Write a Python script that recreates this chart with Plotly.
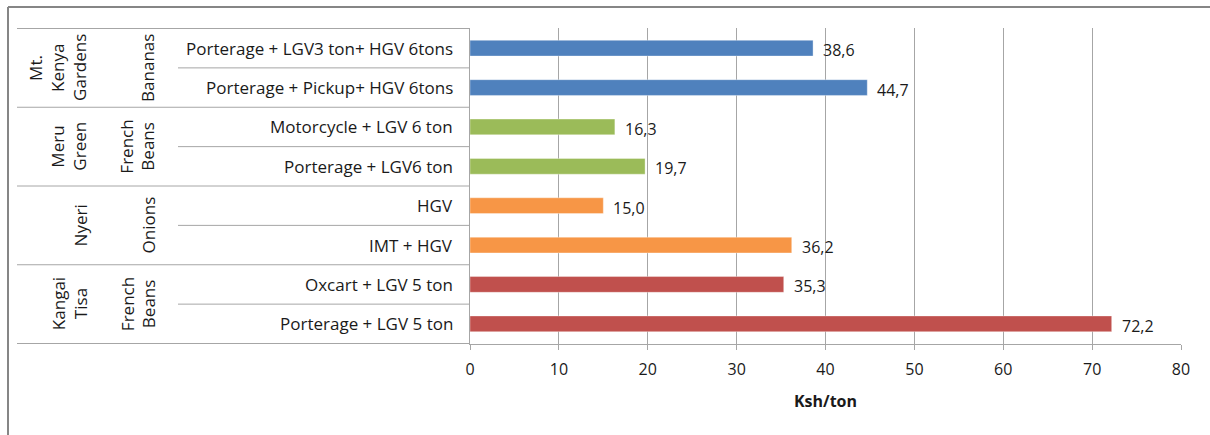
import plotly.graph_objects as go

# Transport options (top to bottom), their cost and the group they belong to
routes = [
    "Porterage + LGV3 ton+ HGV 6tons",
    "Porterage + Pickup+ HGV 6tons",
    "Motorcycle + LGV 6 ton",
    "Porterage + LGV6 ton",
    "HGV",
    "IMT + HGV",
    "Oxcart + LGV 5 ton",
    "Porterage + LGV 5 ton",
]
cost_ksh_per_ton = [38.6, 44.7, 16.3, 19.7, 15.0, 36.2, 35.3, 72.2]

sites = [["Mt.", "Kenya", "Gardens"], ["Meru", "Green"], ["Nyeri"], ["Kangai", "Tisa"]]
crops = [["Bananas"], ["French", "Beans"], ["Onions"], ["French", "Beans"]]
group_colors = ["#4F81BD", "#9BBB59", "#F79646", "#C0504D"]
rows_per_group = 2

x_ticks = [0, 10, 20, 30, 40, 50, 60, 70, 80]

W, H = 1210, 435
L, R, T, B = 470, 29, 28, 91
plot_w = W - L - R
plot_h = H - T - B


def px_x(px):
    """Convert a horizontal page pixel into paper coordinates."""
    return (px - L) / plot_w


def px_y(py):
    """Convert a vertical page pixel into paper coordinates."""
    return 1 - (py - T) / plot_h


bar_colors = [group_colors[i // rows_per_group] for i in range(len(routes))]

fig = go.Figure()
fig.add_trace(go.Bar(
    y=routes,
    x=cost_ksh_per_ton,
    orientation="h",
    marker=dict(color=bar_colors, line=dict(color="rgba(255,255,255,0.35)", width=1)),
    width=0.4,
    hoverinfo="x+y",
))

font_family = "'Open Sans', Lato, sans-serif"
text_color = "#1a1a1a"
line_color = "#A6A6A6"
num_font = dict(family=font_family, size=16, color=text_color)
cat_font = dict(family=font_family, size=17, color=text_color)

annotations = []
shapes = []

# Value labels beside each bar
for r, v in zip(routes, cost_ksh_per_ton):
    annotations.append(dict(
        x=v, y=r, xref="x", yref="y",
        text=f"{v:.1f}".replace(".", ","),
        showarrow=False, xanchor="left", yanchor="middle",
        xshift=8, yshift=-2,
        font=num_font,
    ))

# Route labels (innermost category level)
for i, r in enumerate(routes):
    annotations.append(dict(
        x=px_x(455), y=i, xref="paper", yref="y",
        text=r, showarrow=False, xanchor="right", yanchor="middle",
        font=cat_font,
    ))


def add_rotated_lines(lines, last_x, step, yc):
    """Stack the lines of a rotated label from left to right, ending at last_x."""
    n_lines = len(lines)
    for j, word in enumerate(lines):
        cx = last_x - step * (n_lines - 1 - j)
        annotations.append(dict(
            x=px_x(cx), y=yc, xref="paper", yref="y",
            text=word, textangle=-90, showarrow=False,
            xanchor="center", yanchor="middle",
            font=cat_font,
        ))


# Crop and site labels (outer category levels)
for g in range(len(sites)):
    yc = g * rows_per_group + (rows_per_group - 1) / 2
    add_rotated_lines(crops[g], 148, 21, yc)
    add_rotated_lines(sites[g], 80, 22, yc)

# Separator lines of the category table
n = len(routes)
for k in range(n + 1):
    yb = k - 0.5
    full = (k % rows_per_group == 0)
    shapes.append(dict(
        type="line", xref="paper", yref="y",
        x0=px_x(17 if full else 178), x1=0, y0=yb, y1=yb,
        line=dict(color=line_color, width=1),
    ))

# Chart border (top and left edges)
shapes.append(dict(
    type="line", xref="paper", yref="paper",
    x0=px_x(8), x1=px_x(W + 5), y0=px_y(7), y1=px_y(7),
    line=dict(color="#868686", width=2),
))
shapes.append(dict(
    type="line", xref="paper", yref="paper",
    x0=px_x(8), x1=px_x(8), y0=px_y(7), y1=px_y(H + 5),
    line=dict(color="#868686", width=2),
))

fig.update_layout(
    width=W, height=H,
    margin=dict(l=L, r=R, t=T, b=B, pad=0),
    paper_bgcolor="white",
    plot_bgcolor="white",
    showlegend=False,
    annotations=annotations,
    shapes=shapes,
    font=num_font,
    xaxis=dict(
        range=[0, 80],
        tickvals=x_ticks,
        ticktext=[str(t) for t in x_ticks],
        showgrid=True, gridcolor="#A6A6A6", gridwidth=1,
        showline=True, linecolor=line_color, linewidth=1,
        ticks="outside", ticklen=5, tickcolor=line_color,
        ticklabelstandoff=6,
        tickfont=num_font,
        zeroline=False,
        title=dict(text="<b>Ksh/ton</b>", standoff=16, font=num_font),
        fixedrange=True,
    ),
    yaxis=dict(
        type="category",
        categoryorder="array", categoryarray=routes,
        autorange="reversed",
        showticklabels=False,
        showgrid=False,
        showline=True, linecolor=line_color, linewidth=1,
        ticks="", zeroline=False,
        fixedrange=True,
    ),
)

fig.write_html("out.html")
